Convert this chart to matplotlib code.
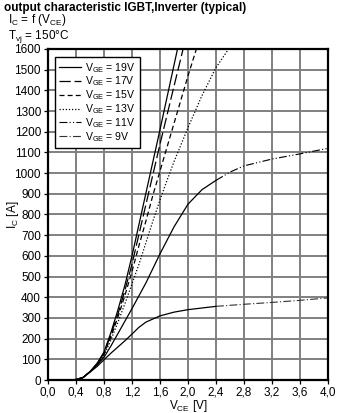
import matplotlib
matplotlib.use("Agg")
import matplotlib.pyplot as plt
import numpy as np

plt.rcParams['font.family'] = ['Liberation Sans', 'DejaVu Sans']
plt.rcParams['mathtext.fontset'] = 'custom'
plt.rcParams['mathtext.rm'] = 'Liberation Sans'
plt.rcParams['mathtext.it'] = 'Liberation Sans'

# ---- data ----
v19 = [0, 0.4, 0.5, 0.6, 0.7, 0.8, 0.9, 1.0, 1.1, 1.2, 1.4, 1.6, 1.85]
i19 = [0, 2, 12, 40, 80, 135, 230, 340, 460, 600, 905, 1210, 1600]

v17 = [0, 0.4, 0.5, 0.6, 0.7, 0.8, 0.9, 1.0, 1.1, 1.2, 1.4, 1.6, 1.8, 1.93]
i17 = [0, 2, 12, 40, 78, 130, 220, 320, 435, 560, 850, 1140, 1420, 1600]

v15 = [0, 0.4, 0.5, 0.6, 0.7, 0.8, 0.9, 1.0, 1.1, 1.2, 1.3, 1.4, 1.5, 1.6, 1.8, 2.0, 2.12]
i15 = [0, 2, 12, 40, 76, 125, 210, 305, 410, 525, 650, 770, 895, 1010, 1240, 1470, 1600]

v13 = [0, 0.4, 0.5, 0.6, 0.7, 0.8, 0.9, 1.0, 1.1, 1.2, 1.3, 1.4, 1.5, 1.6, 1.7, 1.8, 2.0, 2.2, 2.4, 2.58]
i13 = [0, 2, 12, 40, 74, 120, 195, 280, 370, 465, 560, 665, 770, 870, 965, 1055, 1220, 1375, 1510, 1600]

v11 = [0, 0.4, 0.5, 0.6, 0.7, 0.8, 0.9, 1.0, 1.1, 1.2, 1.4, 1.6, 1.8, 2.0, 2.2, 2.4, 2.6, 2.8, 3.2, 3.6, 4.0]
i11 = [0, 2, 12, 40, 72, 110, 165, 225, 285, 345, 470, 610, 740, 850, 920, 965, 1005, 1035, 1068, 1093, 1120]

v9 = [0, 0.4, 0.5, 0.6, 0.7, 0.8, 0.9, 1.0, 1.1, 1.2, 1.3, 1.4, 1.6, 1.8, 2.0, 2.4, 2.8, 3.2, 3.6, 4.0]
i9 = [0, 2, 12, 38, 65, 98, 130, 160, 190, 222, 255, 280, 310, 328, 340, 356, 366, 375, 385, 397]

labels = ['19V', '17V', '15V', '13V', '11V', '9V']
xticks = [0.0, 0.4, 0.8, 1.2, 1.6, 2.0, 2.4, 2.8, 3.2, 3.6, 4.0]
yticks = list(range(0, 1601, 100))

series = [(v19, i19), (v17, i17), (v15, i15), (v13, i13), (v11, i11), (v9, i9)]
styles = [
    dict(color='black', ls='-'),
    dict(color='black', ls=(0, (9, 3))),
    dict(color='black', ls=(0, (4, 2.5))),
    dict(color='black', ls=(0, (1, 1.5))),
    dict(color='black', ls=(0, (7, 2, 1, 2, 1, 2))),
    dict(color='#333333', ls=(0, (7, 2, 1, 2))),
]
solid_until = [None, None, None, None, 2.4, 2.4]

fig = plt.figure(figsize=(3.46, 4.13), dpi=100)
ax = fig.add_axes([0.1387, 0.0799, 0.948 - 0.1387, 0.8814 - 0.0799])

lw = 0.9
handles = []
for (vv, ii), st, lab, su in zip(series, styles, labels, solid_until):
    vv = np.asarray(vv); ii = np.asarray(ii)
    if su is None:
        h, = ax.plot(vv, ii, lw=lw, **st)
    else:
        m1 = vv <= su
        m2 = vv >= su
        ax.plot(vv[m1], ii[m1], lw=lw, color='black', ls='-')
        h, = ax.plot(vv[m2], ii[m2], lw=lw * 0.9, **st)
    handles.append(h)

ax.set_xlim(0, 4.0)
ax.set_ylim(0, 1600)
ax.set_xticks(xticks)
ax.set_yticks(yticks)
ax.set_xticklabels([f"{t:.1f}".replace('.', ',') for t in xticks], fontsize=8.5)
ax.set_yticklabels([str(t) for t in yticks], fontsize=8.5)
for lbl, t in zip(ax.get_xticklabels(), xticks):
    if t >= 2.8:
        lbl.set_color('#a0a0a0')
ax.grid(True, color='#808080', lw=1.4)
ax.set_axisbelow(True)
for s in ax.spines.values():
    s.set_linewidth(1.6)
    s.set_color('black')
ax.tick_params(axis='both', direction='out', length=3, width=0.9, pad=2, colors='black')

ax.set_xlabel(r"V$_\mathregular{CE}$ [V]", fontsize=8.5)
ax.xaxis.set_label_coords(0.5, -0.055)
ax.set_ylabel(r"I$_\mathregular{C}$ [A]", fontsize=8.5)
ax.yaxis.set_label_coords(-0.095, 0.5)

leg = ax.legend(handles, [r"V$_\mathregular{GE}$ = " + l for l in labels],
                loc='upper left', bbox_to_anchor=(0.02, 0.98), fontsize=7.6,
                frameon=True, fancybox=False, edgecolor='black', framealpha=1,
                handlelength=2.1, handletextpad=0.35, labelspacing=0.0,
                borderpad=0.4, borderaxespad=0.1)
leg.get_frame().set_linewidth(1.0)

fig.text(4 / 346, 1 - 11 / 413, "output characteristic IGBT,Inverter (typical)",
         fontsize=8.5, fontweight='bold', va='baseline', ha='left')
fig.text(8 / 346, 1 - 23.5 / 413, r"I$_\mathregular{C}$ = f (V$_\mathregular{CE}$)",
         fontsize=8.5, va='baseline', ha='left')
fig.text(8 / 346, 1 - 39 / 413, r"T$_\mathregular{vj}$ = 150°C",
         fontsize=8.5, va='baseline', ha='left')

fig.savefig("out.png", dpi=100)
